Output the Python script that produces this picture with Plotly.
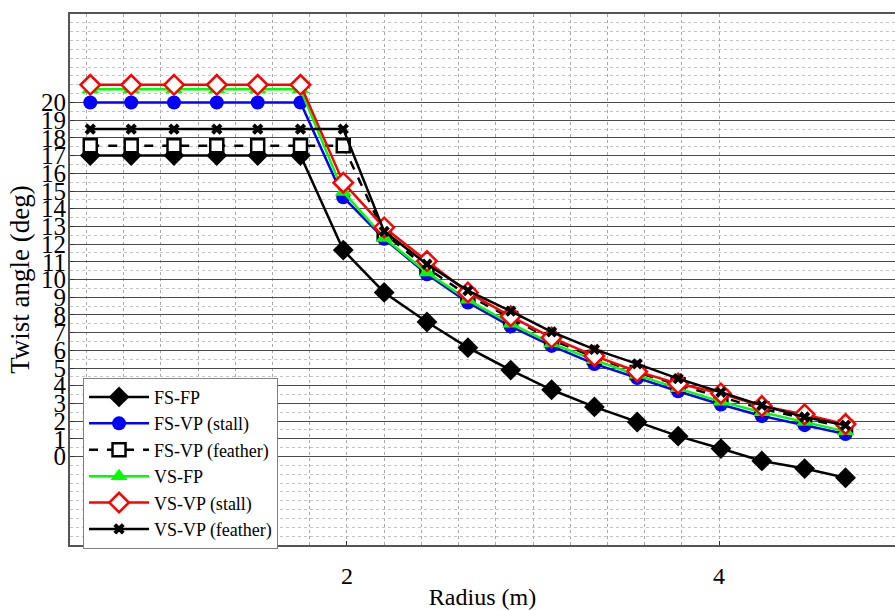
import plotly.graph_objects as go

# ---------------- data ----------------
radius = [0.62, 0.84, 1.07, 1.30, 1.52, 1.75, 1.98, 2.20, 2.43, 2.65,
          2.88, 3.10, 3.33, 3.56, 3.78, 4.01, 4.23, 4.46, 4.68]

fs_fp = [17.0, 17.0, 17.0, 17.0, 17.0, 17.0, 11.66, 9.27, 7.6, 6.15,
         4.88, 3.77, 2.8, 1.95, 1.15, 0.45, -0.25, -0.68, -1.2]
fs_vp_stall = [20.0, 20.0, 20.0, 20.0, 20.0, 20.0, 14.65, 12.3, 10.3, 8.7,
               7.35, 6.25, 5.23, 4.43, 3.69, 2.94, 2.29, 1.77, 1.27]
fs_vp_feather = [17.55, 17.55, 17.55, 17.55, 17.55, 17.55, 17.55, 12.6, 10.65, 9.1,
                 7.8, 6.6, 5.6, 4.75, 4.05, 3.35, 2.7, 2.15, 1.65]
vs_fp = [20.75, 20.75, 20.75, 20.75, 20.75, 20.75, 14.95, 12.35, 10.39, 8.85,
         7.5, 6.39, 5.45, 4.6, 3.85, 3.1, 2.5, 1.95, 1.42]
vs_vp_stall = [21.0, 21.0, 21.0, 21.0, 21.0, 21.0, 15.47, 12.94, 11.04, 9.27,
               7.92, 6.72, 5.68, 4.8, 4.12, 3.56, 2.85, 2.38, 1.83]
vs_vp_feather = [18.5, 18.5, 18.5, 18.5, 18.5, 18.5, 18.5, 12.72, 10.86, 9.37,
                 8.21, 7.04, 6.05, 5.23, 4.4, 3.63, 2.89, 2.23, 1.77]

series_names = ["FS-FP", "FS-VP (stall)", "FS-VP (feather)",
                "VS-FP", "VS-VP (stall)", "VS-VP (feather)"]

y_ticks = list(range(0, 21))
x_ticks = [2, 4]
x_minor = [0.6, 0.8, 1.0, 1.2, 1.4, 1.6, 1.8, 2.2, 2.4, 2.6, 2.8,
           3.0, 3.2, 3.4, 3.6, 3.8]

# ---------------- styles ----------------
FONT = "Liberation Serif, Times New Roman, serif"
styles = [
    dict(line=dict(color="black", width=2.5),
         marker=dict(symbol="diamond", size=16, color="black")),
    dict(line=dict(color="#0000ff", width=2.5),
         marker=dict(symbol="circle", size=14, color="#0000ff")),
    dict(line=dict(color="black", width=2.5, dash="dash"),
         marker=dict(symbol="square", size=13, color="white",
                     line=dict(color="black", width=2.5))),
    dict(line=dict(color="#00ff00", width=2.5),
         marker=dict(symbol="triangle-up", size=15, color="#00ff00")),
    dict(line=dict(color="#ff0000", width=2.5),
         marker=dict(symbol="diamond", size=15, color="white",
                     line=dict(color="#ff0000", width=2.5))),
    dict(line=dict(color="black", width=2.5),
         marker=dict(symbol="x", size=10, color="black")),
]
data = [fs_fp, fs_vp_stall, fs_vp_feather, vs_fp, vs_vp_stall, vs_vp_feather]

fig = go.Figure()
for name, vals, st in zip(series_names, data, styles):
    fig.add_trace(go.Scatter(x=radius, y=vals, name=name, mode="lines+markers",
                             line=st["line"], marker=st["marker"]))

fig.update_layout(
    width=895, height=610,
    margin=dict(l=70, r=0, t=14, b=59),
    paper_bgcolor="white", plot_bgcolor="white",
    font=dict(family=FONT, size=24, color="black"),
    showlegend=True,
    legend=dict(x=0.0158, y=0.315, xanchor="left", yanchor="top",
                bgcolor="white", bordercolor="#808080", borderwidth=1,
                font=dict(family=FONT, size=18, color="black"),
                itemwidth=60, tracegroupgap=0),
)

fig.update_xaxes(
    range=[0.511, 4.946],
    tickmode="array", tickvals=x_ticks, ticktext=[str(v) for v in x_ticks],
    ticks="inside", ticklen=4, tickcolor="#333",
    showgrid=True, griddash="dot", gridcolor="#a8a8a8", gridwidth=1,
    minor=dict(tickmode="array", tickvals=x_minor, showgrid=True,
               griddash="dot", gridcolor="#a8a8a8", gridwidth=1, ticks=""),
    showline=True, linecolor="#555", linewidth=2, mirror=True,
    zeroline=False,
    ticklabelstandoff=8,
    title=dict(text="Radius (m)", font=dict(size=24), standoff=4),
    tickfont=dict(size=24),
)

fig.update_yaxes(
    range=[-5, 25],
    tickmode="array", tickvals=y_ticks, ticktext=[str(v) for v in y_ticks],
    ticks="inside", ticklen=4, tickcolor="#333",
    showgrid=True, gridcolor="#4a4a4a", gridwidth=1,
    minor=dict(tick0=-5, dtick=0.5, showgrid=True, griddash="dot",
               gridcolor="#c4c4c4", gridwidth=1, ticks=""),
    showline=True, linecolor="#555", linewidth=2, mirror=False,
    zeroline=False,
    ticklabelstandoff=-3,
    title=dict(text="Twist angle (deg)", font=dict(size=27), standoff=4),
    tickfont=dict(size=25),
)

fig.write_html("out.html")
